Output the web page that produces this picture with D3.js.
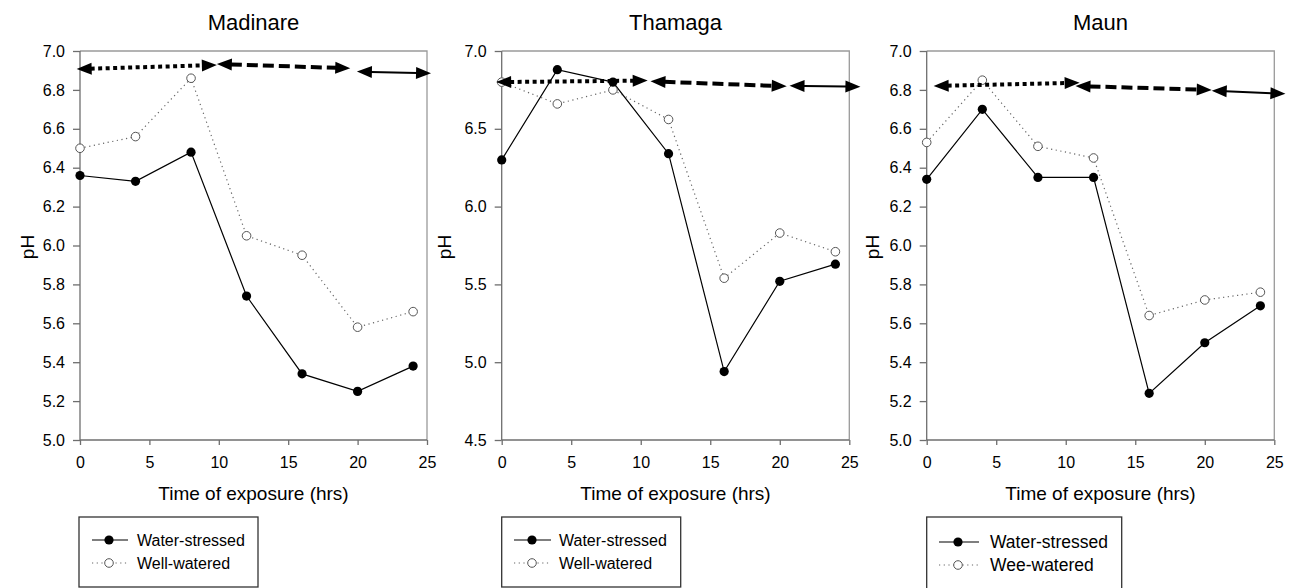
<!DOCTYPE html>
<html>
<head>
<meta charset="utf-8">
<script src="https://cdn.jsdelivr.net/npm/d3@7"></script>
<style>
  html, body { margin: 0; padding: 0; background: #fff; }
  svg { display: block; font-family: "Liberation Sans", Arial, sans-serif; }
</style>
</head>
<body>
<svg id="chart" width="1293" height="588"></svg>
<script>
// ---- data ----
const hours = [0, 4, 8, 12, 16, 20, 24];
const siteNames = ["Madinare", "Thamaga", "Maun"];

const madinareStressed = [6.36, 6.33, 6.48, 5.74, 5.34, 5.25, 5.38];
const madinareWatered  = [6.50, 6.56, 6.86, 6.05, 5.95, 5.58, 5.66];
const thamagaStressed  = [6.30, 6.88, 6.80, 6.34, 4.94, 5.52, 5.63];
const thamagaWatered   = [6.80, 6.66, 6.75, 6.56, 5.54, 5.83, 5.71];
const maunStressed     = [6.34, 6.70, 6.35, 6.35, 5.24, 5.50, 5.69];
const maunWatered      = [6.53, 6.85, 6.51, 6.45, 5.64, 5.72, 5.76];

// arrow end points [x1, y1, x2, y2] in data units: dotted, dashed, solid
const madinareArrows = [[-0.24, 6.907, 9.86, 6.928], [9.86, 6.933, 19.47, 6.911], [19.95, 6.894, 25.29, 6.885]];
const thamagaArrows  = [[-0.4, 6.80, 10.5, 6.81], [10.7, 6.805, 20.5, 6.773], [20.7, 6.777, 25.8, 6.770]];
const maunArrows     = [[0.5, 6.82, 11.0, 6.837], [10.7, 6.82, 20.5, 6.80], [20.5, 6.796, 25.8, 6.78]];

const yDomains = [[5.0, 7.0], [4.5, 7.0], [5.0, 7.0]];
const yTickValues = [
  [5.0, 5.2, 5.4, 5.6, 5.8, 6.0, 6.2, 6.4, 6.6, 6.8, 7.0],
  [4.5, 5.0, 5.5, 6.0, 6.5, 7.0],
  [5.0, 5.2, 5.4, 5.6, 5.8, 6.0, 6.2, 6.4, 6.6, 6.8, 7.0]
];
const xTickValues = [0, 5, 10, 15, 20, 25];
const legendLabels = [
  ["Water-stressed", "Well-watered"],
  ["Water-stressed", "Well-watered"],
  ["Water-stressed", "Wee-watered"]
];
const xTitle = "Time of exposure (hrs)";
const yTitle = "pH";

// ---- layout ----
const panels = [
  { left: 80,    right: 427,    stressed: madinareStressed, watered: madinareWatered, arrows: madinareArrows,
    pHx: 27, legend: { x: 79, w: 179, h: 70, lx1: 92, lx2: 128, mx: 109, tx: 137, y1: 540, y2: 563, fs: 16 } },
  { left: 501.7, right: 849.3,  stressed: thamagaStressed,  watered: thamagaWatered,  arrows: thamagaArrows,
    pHx: 444, legend: { x: 501.7, w: 179, h: 70, lx1: 514, lx2: 551, mx: 532, tx: 559, y1: 540, y2: 563, fs: 16 } },
  { left: 926.7, right: 1274.3, stressed: maunStressed,     watered: maunWatered,     arrows: maunArrows,
    pHx: 872, legend: { x: 926.7, w: 195, h: 76, lx1: 939, lx2: 979, mx: 958, tx: 990, y1: 542, y2: 565, fs: 17.5 } }
];
const plotTop = 51, plotBottom = 440;

const svg = d3.select("#chart");
const arrowStyles = [
  { width: 4, dash: "4,3.5" },
  { width: 4, dash: "11,5" },
  { width: 2, dash: null }
];

panels.forEach((p, i) => {
  const x = d3.scaleLinear().domain([0, 25]).range([p.left, p.right]);
  const y = d3.scaleLinear().domain(yDomains[i]).range([plotBottom, plotTop]);
  const g = svg.append("g");

  // frame (top & right)
  g.append("path")
    .attr("d", `M${p.left},${plotTop}H${p.right}V${plotBottom}`)
    .attr("fill", "none").attr("stroke", "#9a9a9a").attr("stroke-width", 1.3);

  // axes
  const yAxis = d3.axisLeft(y).tickValues(yTickValues[i]).tickFormat(d3.format(".1f")).tickSize(7).tickPadding(8);
  const xAxis = d3.axisBottom(x).tickValues(xTickValues).tickFormat(d3.format("d")).tickSize(5).tickPadding(12);

  const ya = g.append("g").attr("transform", `translate(${p.left},0)`).call(yAxis);
  const xa = g.append("g").attr("transform", `translate(0,${plotBottom})`).call(xAxis);
  [ya, xa].forEach(a => {
    a.select(".domain").attr("stroke", "#6e6e6e").attr("stroke-width", 1.3);
    a.selectAll(".tick line").attr("stroke", "#6e6e6e").attr("stroke-width", 1.3);
    a.selectAll(".tick text").attr("fill", "#000").style("font-size", "16px")
      .style("font-family", "'Liberation Sans', Arial, sans-serif");
  });
  ya.select(".domain").attr("d", `M0,${plotBottom}V${plotTop}`);
  xa.select(".domain").attr("d", `M${p.left},0H${p.right}`);

  // titles
  g.append("text").attr("x", (p.left + p.right) / 2).attr("y", 30)
    .attr("text-anchor", "middle").style("font-size", "22px").text(siteNames[i]);
  g.append("text").attr("x", (p.left + p.right) / 2).attr("y", 500)
    .attr("text-anchor", "middle").style("font-size", "19px").text(xTitle);
  g.append("text").attr("transform", `translate(${p.pHx + 7},247) rotate(-90)`)
    .attr("text-anchor", "middle").style("font-size", "19px").text(yTitle);

  // series
  const line = d3.line().x((d, k) => x(hours[k])).y(d => y(d));
  g.append("path").datum(p.watered).attr("d", line)
    .attr("fill", "none").attr("stroke", "#666").attr("stroke-width", 1.2).attr("stroke-dasharray", "1.2,3.5");
  g.append("path").datum(p.stressed).attr("d", line)
    .attr("fill", "none").attr("stroke", "#000").attr("stroke-width", 1.2);
  g.selectAll(".ww").data(p.watered).enter().append("circle")
    .attr("cx", (d, k) => x(hours[k])).attr("cy", d => y(d)).attr("r", 4.3)
    .attr("fill", "#fff").attr("stroke", "#555").attr("stroke-width", 1);
  g.selectAll(".ws").data(p.stressed).enter().append("circle")
    .attr("cx", (d, k) => x(hours[k])).attr("cy", d => y(d)).attr("r", 4.6)
    .attr("fill", "#000");

  // double-headed arrows
  const headLen = 15, headHalf = 6;
  p.arrows.forEach((a, j) => {
    const x1 = x(a[0]), y1 = y(a[1]), x2 = x(a[2]), y2 = y(a[3]);
    const dx = x2 - x1, dy = y2 - y1, L = Math.hypot(dx, dy);
    const ux = dx / L, uy = dy / L, nx = -uy, ny = ux;
    const s = arrowStyles[j];
    g.append("line")
      .attr("x1", x1 + ux * (headLen - 1)).attr("y1", y1 + uy * (headLen - 1))
      .attr("x2", x2 - ux * (headLen - 1)).attr("y2", y2 - uy * (headLen - 1))
      .attr("stroke", "#000").attr("stroke-width", s.width)
      .attr("stroke-dasharray", s.dash);
    const head = (tx, ty, dirx, diry) => {
      const bx = tx - dirx * headLen, by = ty - diry * headLen;
      return `M${tx},${ty}L${bx + nx * headHalf},${by + ny * headHalf}L${bx - nx * headHalf},${by - ny * headHalf}Z`;
    };
    g.append("path").attr("d", head(x2, y2, ux, uy)).attr("fill", "#000");
    g.append("path").attr("d", head(x1, y1, -ux, -uy)).attr("fill", "#000");
  });

  // legend
  const L = p.legend;
  g.append("rect").attr("x", L.x).attr("y", 517).attr("width", L.w).attr("height", L.h)
    .attr("fill", "none").attr("stroke", "#333").attr("stroke-width", 1.3);
  g.append("line").attr("x1", L.lx1).attr("x2", L.lx2).attr("y1", L.y1).attr("y2", L.y1)
    .attr("stroke", "#000").attr("stroke-width", 1.2);
  g.append("circle").attr("cx", L.mx).attr("cy", L.y1).attr("r", 4.6).attr("fill", "#000");
  g.append("line").attr("x1", L.lx1).attr("x2", L.lx2).attr("y1", L.y2).attr("y2", L.y2)
    .attr("stroke", "#666").attr("stroke-width", 1.2).attr("stroke-dasharray", "1.2,3.5");
  g.append("circle").attr("cx", L.mx).attr("cy", L.y2).attr("r", 4.3)
    .attr("fill", "#fff").attr("stroke", "#555").attr("stroke-width", 1);
  g.append("text").attr("x", L.tx).attr("y", L.y1).attr("dy", "0.35em")
    .style("font-size", L.fs + "px").text(legendLabels[i][0]);
  g.append("text").attr("x", L.tx).attr("y", L.y2).attr("dy", "0.35em")
    .style("font-size", L.fs + "px").text(legendLabels[i][1]);
});
</script>
</body>
</html>
